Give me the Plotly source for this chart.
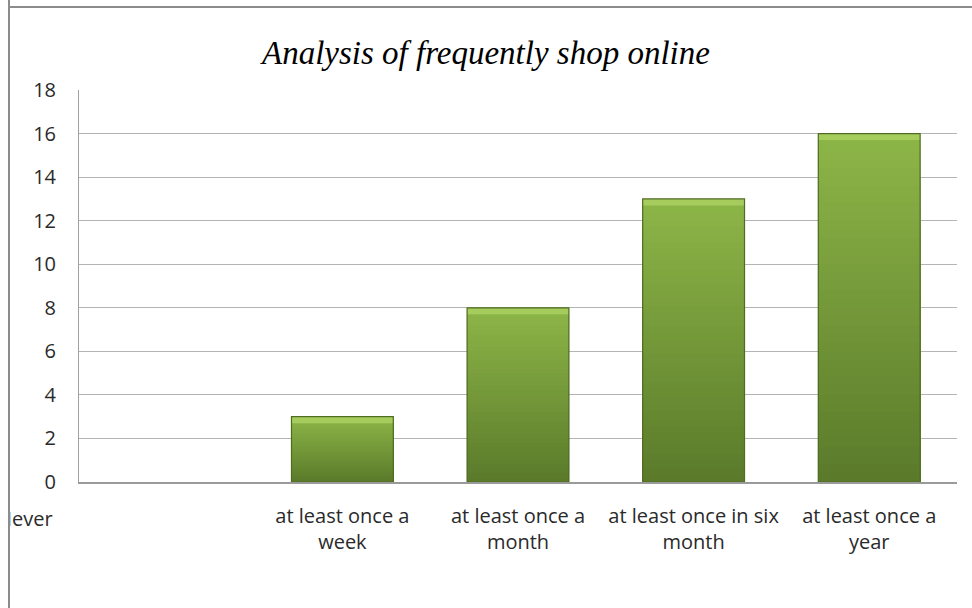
import plotly.graph_objects as go

# ---- data -----------------------------------------------------------------
categories = [
    "Never",
    "at least once a week",
    "at least once a month",
    "at least once in six month",
    "at least once a year",
]
tick_labels = [
    "Never",
    "at least once a<br>week",
    "at least once a<br>month",
    "at least once in six<br>month",
    "at least once a<br>year",
]
counts = [0, 3, 8, 13, 16]
y_ticks = [0, 2, 4, 6, 8, 10, 12, 14, 16, 18]
title_text = "Analysis of frequently shop online"

# ---- geometry (pixels on a 972 x 608 page) ---------------------------------
W, H = 972, 608
PLOT_L, PLOT_R, PLOT_T, PLOT_B = 79, 957, 90, 482
PW, PH = PLOT_R - PLOT_L, PLOT_B - PLOT_T


def px_x(p):
    return (p - PLOT_L) / PW


def px_y(p):
    return (PLOT_B - p) / PH


LABEL_FONT = dict(family="Open Sans", size=20, color="#2a2a2a")
GRID = "#b4b4b4"
FRAME = "#8c8c8c"

# ---- bars: vertical green gradient built from nested bars ------------------
# Each pass is drawn from the baseline up to a fraction of the value; shorter
# (darker) passes are painted over taller (lighter) ones.
TOP_RGB = (0x8D, 0xB6, 0x48)
BOTTOM_RGB = (0x5A, 0x7A, 0x2A)
N_SLICES = 40
BEVEL = 0.30  # height (in data units) of the light strip on each bar's top
BAR_GAP = 0.42

fig = go.Figure()

for k in range(N_SLICES):
    frac = (N_SLICES - k) / N_SLICES          # 1 -> 1/N
    t = (N_SLICES - k - 0.5) / N_SLICES       # colour position, 1 = top
    rgb = tuple(round(b + (a - b) * t) for a, b in zip(TOP_RGB, BOTTOM_RGB))
    fig.add_bar(
        x=categories,
        y=[v * frac for v in counts],
        marker=dict(color="rgb(%d,%d,%d)" % rgb, line=dict(width=0)),
        hoverinfo="skip",
        showlegend=False,
    )

# light bevel along the top of each bar
fig.add_bar(
    x=categories,
    y=[BEVEL if v > 0 else 0 for v in counts],
    base=[v - BEVEL if v > 0 else 0 for v in counts],
    marker=dict(color="#a6cc5e", line=dict(width=0)),
    hoverinfo="skip",
    showlegend=False,
)

# dark outline of each bar
fig.add_bar(
    x=categories,
    y=counts,
    marker=dict(
        color="rgba(0,0,0,0)",
        line=dict(width=1.2,
                  color=["#4f6c22" if v > 0 else "rgba(0,0,0,0)" for v in counts]),
    ),
    hovertemplate="%{x}: %{y}<extra></extra>",
    showlegend=False,
)

# ---- layout ---------------------------------------------------------------
fig.update_layout(
    width=W,
    height=H,
    margin=dict(l=PLOT_L, r=W - PLOT_R, t=PLOT_T, b=H - PLOT_B, autoexpand=False),
    paper_bgcolor="white",
    plot_bgcolor="white",
    barmode="overlay",
    bargap=BAR_GAP,
    title=dict(
        text=title_text,
        x=0.5,
        xref="container",
        xanchor="center",
        y=1 - 52 / H,
        yref="container",
        yanchor="middle",
        font=dict(family="Liberation Serif", size=33, color="black", style="italic"),
    ),
    xaxis=dict(
        type="category",
        categoryorder="array",
        categoryarray=categories,
        tickvals=categories,
        ticktext=[""] + tick_labels[1:],
        tickfont=LABEL_FONT,
        ticks="",
        ticklabelstandoff=15,
        showgrid=False,
        showline=True,
        linecolor="#9a9a9a",
        linewidth=2,
        zeroline=False,
        range=[-0.5, len(categories) - 0.5],
        fixedrange=True,
    ),
    yaxis=dict(
        range=[0, 18],
        tickvals=y_ticks,
        tickfont=LABEL_FONT,
        ticks="",
        ticklabelstandoff=18,
        showgrid=True,
        gridcolor=GRID,
        gridwidth=1,
        showline=True,
        linecolor="#a0a0a0",
        linewidth=1,
        zeroline=False,
        fixedrange=True,
    ),
    shapes=[
        # outer chart frame
        dict(
            type="rect",
            xref="paper",
            yref="paper",
            x0=px_x(9),
            x1=px_x(W + 40),
            y0=px_y(H + 40),
            y1=px_y(7),
            line=dict(color=FRAME, width=2),
            fillcolor="rgba(0,0,0,0)",
            layer="below",
        ),
    ],
    annotations=[
        # first category label sits at the far left of the chart
        dict(
            text=tick_labels[0],
            xref="paper",
            yref="paper",
            x=px_x(55),
            y=px_y(518),
            xanchor="right",
            yanchor="middle",
            showarrow=False,
            font=LABEL_FONT,
        ),
        # left margin of the frame, drawn over the label so it is clipped
        dict(
            text=" ",
            xref="paper",
            yref="paper",
            x=px_x(10),
            y=0.5,
            xanchor="right",
            yanchor="middle",
            width=200,
            height=1000,
            bgcolor="white",
            bordercolor=FRAME,
            borderwidth=2,
            borderpad=0,
            showarrow=False,
        ),
    ],
)

fig.write_html("out.html")
